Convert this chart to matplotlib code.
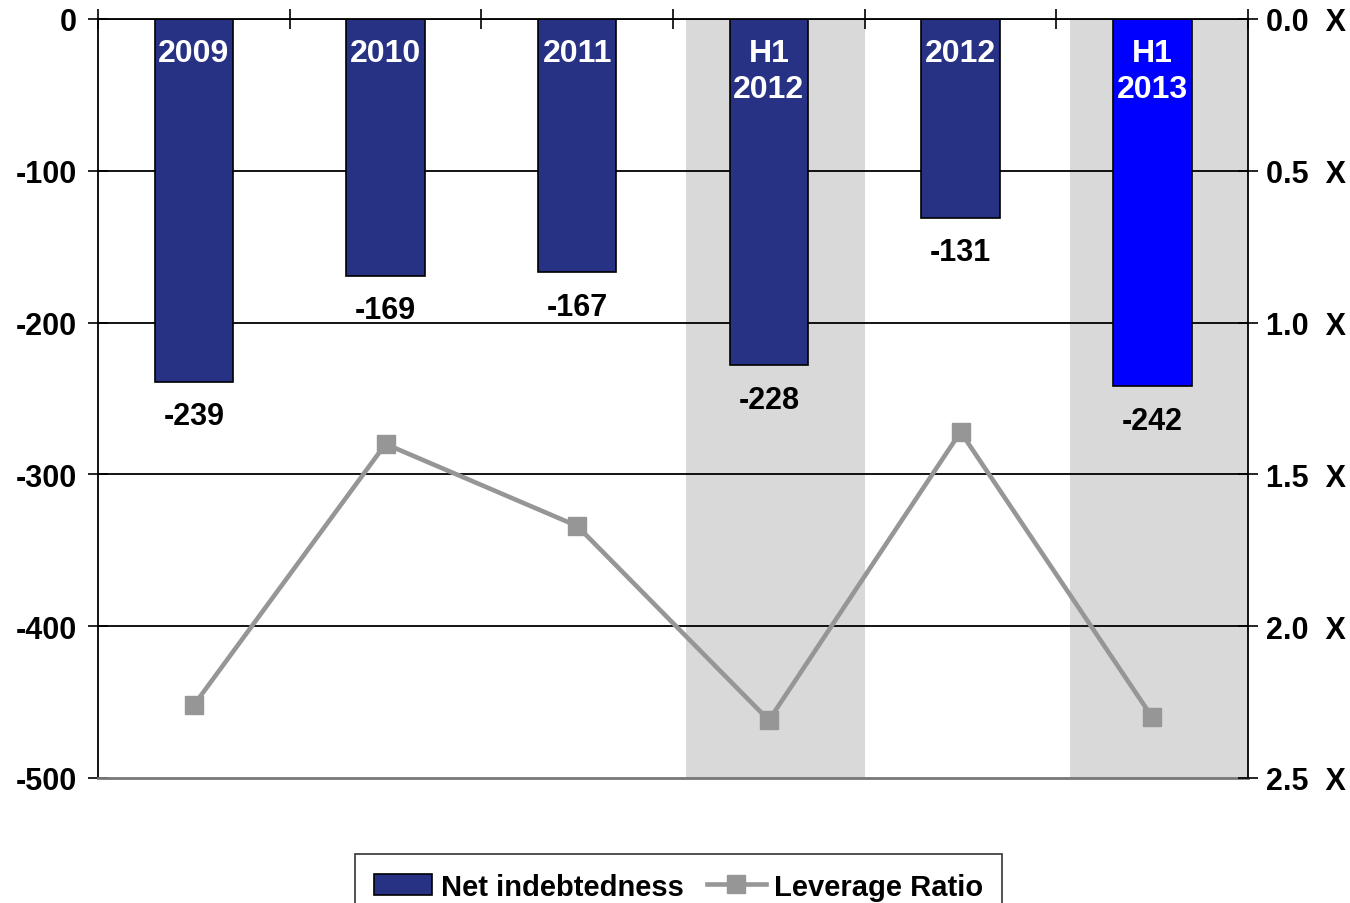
import numpy as np
import matplotlib.pyplot as plt
from matplotlib.patches import Patch
from matplotlib.lines import Line2D

plt.rcParams['font.family'] = ['Liberation Sans', 'DejaVu Sans']
plt.rcParams['font.weight'] = 'bold'

periods = ['2009', '2010', '2011', 'H1\n2012', '2012', 'H1\n2013']
net_debt = [-239, -169, -167, -228, -131, -242]
leverage = [2.26, 1.40, 1.67, 2.31, 1.36, 2.30]
shaded = [3, 5]

navy = '#283284'
bar_colors = [navy] * 5 + ['#0000ff']
grey = '#969696'
fs = 22

fig = plt.figure(figsize=(13.5, 9.04), dpi=100)
ax = fig.add_axes([0.0726, 0.1383, 0.8519, 0.8396])
x = np.arange(len(periods))

for i in shaded:
    ax.axvspan(i - 0.43, i + 0.5, color='#d9d9d9', zorder=0, lw=0)

for v in range(-400, 1, 100):
    ax.axhline(v, color='black', lw=1.3, zorder=1)

ax.bar(x, net_debt, width=0.41, color=bar_colors, edgecolor='black', lw=1.2, zorder=2)

for i in x:
    ax.annotate(periods[i], (i, 0), xytext=(0, -14), textcoords='offset points',
                ha='center', va='top', color='white', fontsize=23, fontweight='bold',
                linespacing=1.25, zorder=4)
    ax.annotate(str(net_debt[i]), (i, net_debt[i]), xytext=(0, -14), textcoords='offset points',
                ha='center', va='top', color='black', fontsize=fs, fontweight='bold', zorder=4)

ax.set_xlim(-0.5, 5.5)
ax.set_ylim(-500, 0)
ax.set_yticks(range(-500, 1, 100))
ax.set_yticklabels([str(v) for v in range(-500, 1, 100)], fontsize=fs, fontweight='bold')
ax.tick_params(axis='y', direction='inout', length=14, width=1.2, pad=8)

ax.xaxis.tick_top()
ax.set_xticks(np.arange(-0.5, 5.6, 1))
ax.set_xticklabels([])
ax.tick_params(axis='x', direction='inout', length=14, width=1.2)

ax.spines['top'].set_linewidth(1.3)
ax.spines['left'].set_linewidth(1.3)
ax.spines['right'].set_linewidth(1.3)
ax.spines['bottom'].set_color('#777777')
ax.spines['bottom'].set_linewidth(2)

ax2 = ax.twinx()
ax2.plot(x, leverage, color=grey, lw=3.3, marker='s', markersize=13, zorder=5)
ax2.set_ylim(2.5, 0)
ticks2 = np.arange(0, 2.51, 0.5)
ax2.set_yticks(ticks2)
ax2.set_yticklabels([f'{t:.1f}  X' for t in ticks2], fontsize=fs, fontweight='bold')
ax2.tick_params(axis='y', direction='inout', length=14, width=1.2, pad=6)
for s in ax2.spines.values():
    s.set_visible(False)

handles = [Patch(facecolor=navy, edgecolor='black', lw=1.2),
           Line2D([], [], color=grey, lw=3.3, marker='s', markersize=13)]
leg = fig.legend(handles, ['Net indebtedness', 'Leverage Ratio'], loc='upper center',
                 bbox_to_anchor=(0.5027, 0.0545), ncol=2, frameon=True, fancybox=False,
                 edgecolor='black', prop={'size': 21, 'weight': 'bold'}, borderaxespad=0,
                 handlelength=2.0, handletextpad=0.3, columnspacing=0.8, borderpad=0.65)
leg.get_frame().set_linewidth(1.2)

fig.savefig('out.png', dpi=100)
